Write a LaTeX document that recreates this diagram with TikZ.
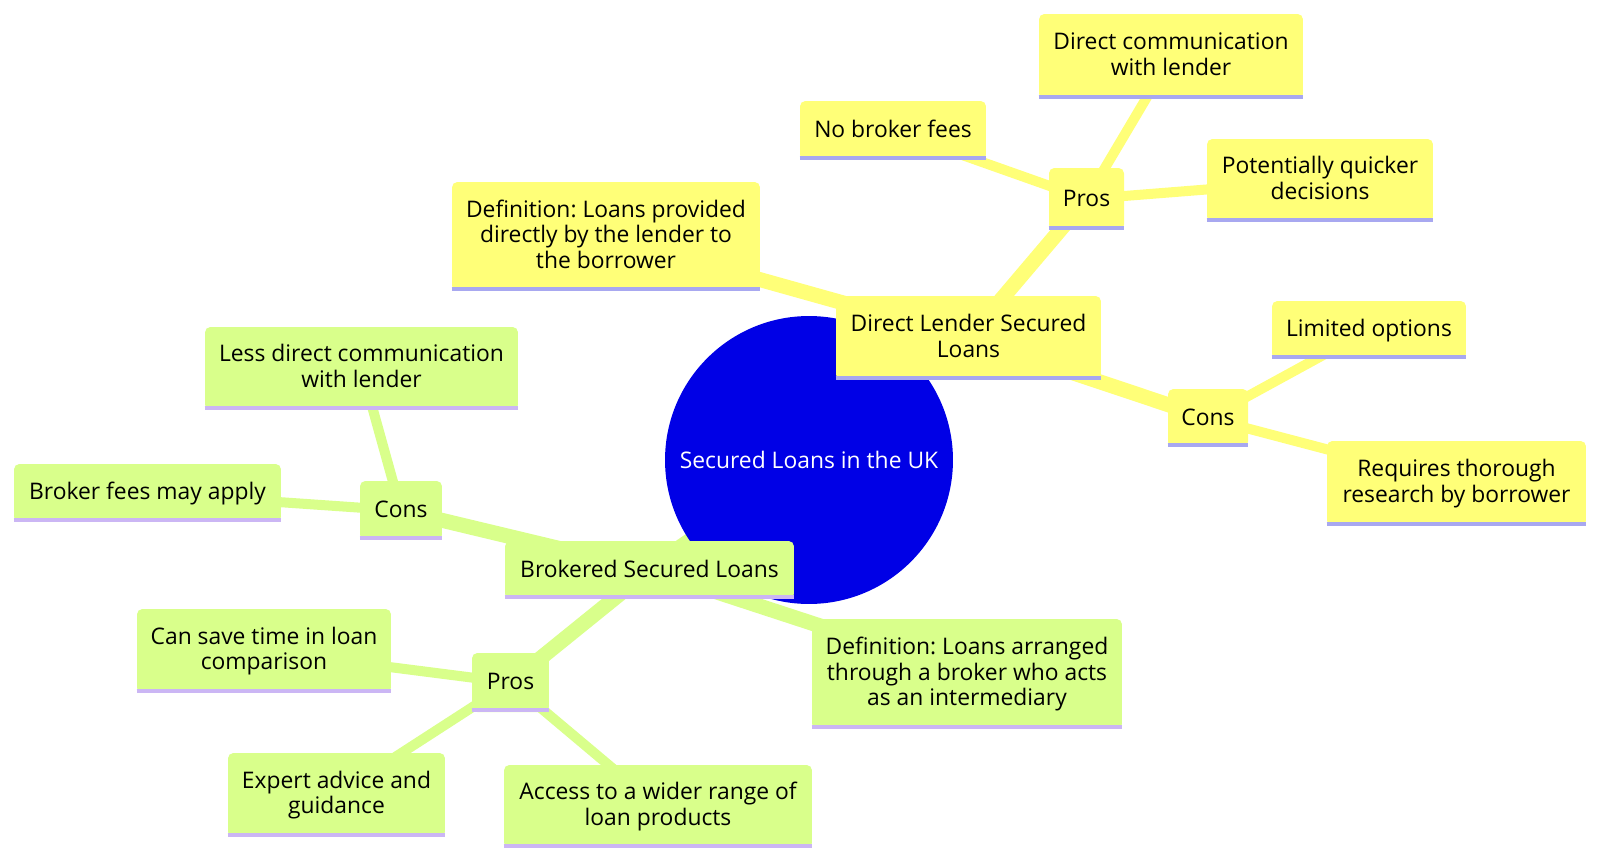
\documentclass[tikz,border=0pt]{standalone}
\usepackage{fontspec}
\setmainfont{Open Sans}
\frenchspacing
\usetikzlibrary{backgrounds}
\definecolor{secY}{HTML}{FFFF78}
\definecolor{secG}{HTML}{D9FF8B}
\definecolor{lineY}{HTML}{A8A8F0}
\definecolor{lineG}{HTML}{CBB6F4}
\definecolor{rootblue}{HTML}{0000E6}
\tikzset{
  box/.style={rectangle, rounded corners=3pt, inner sep=0pt, align=center,
    font=\fontsize{13}{14.7}\selectfont, text=black,
    execute at begin node={\rule{0pt}{11pt}},
    execute at end node={\rule[-2.6pt]{0pt}{0pt}}},
  ybox/.style={box, fill=secY},
  gbox/.style={box, fill=secG},
  ybar/.style={draw=lineY, line width=2.3pt},
  gbar/.style={draw=lineG, line width=2.3pt},
  yedge/.style={draw=secY},
  gedge/.style={draw=secG},
  d0/.style={line width=10.2pt},
  d1/.style={line width=8.5pt},
  d2/.style={line width=5.7pt},
  rootnode/.style={circle, fill=rootblue, text=white, inner sep=0pt,
    minimum size=5.76cm, font=\fontsize{13}{14.7}\selectfont}
}
\begin{document}
\begin{tikzpicture}[x=0.02cm, y=-0.02cm]
\useasboundingbox (0,0) rectangle (1600,862);
% root
\node[rootnode] (root) at (809,460) {Secured Loans in the UK};
% direct lender branch
\node[ybox, minimum width=5.30cm, minimum height=1.68cm] (dl) at (968.5,338) {Direct Lender Secured\\Loans};
\node[ybox, minimum width=6.16cm, minimum height=2.18cm] (dldef) at (606,236.5) {Definition: Loans provided\\directly by the lender to\\the borrower};
\node[ybox, minimum width=1.50cm, minimum height=1.24cm] (dlpros) at (1086.5,199) {Pros};
\node[ybox, minimum width=3.72cm, minimum height=1.18cm] (nbf) at (893,130.5) {No broker fees};
\node[ybox, minimum width=5.28cm, minimum height=1.70cm] (dcl) at (1171,56.5) {Direct communication\\with lender};
\node[ybox, minimum width=4.52cm, minimum height=1.66cm] (pqd) at (1320,180.5) {Potentially quicker\\decisions};
\node[ybox, minimum width=1.60cm, minimum height=1.16cm] (dlcons) at (1208,418) {Cons};
\node[ybox, minimum width=3.88cm, minimum height=1.16cm] (lo) at (1369,330) {Limited options};
\node[ybox, minimum width=5.18cm, minimum height=1.70cm] (rtr) at (1456.5,483.5) {Requires thorough\\research by borrower};
% brokered branch
\node[gbox, minimum width=5.78cm, minimum height=1.16cm] (bsl) at (649.5,570) {Brokered Secured Loans};
\node[gbox, minimum width=1.64cm, minimum height=1.18cm] (bcons) at (401,510.5) {Cons};
\node[gbox, minimum width=6.26cm, minimum height=1.66cm] (ldc) at (361.5,368.5) {Less direct communication\\with lender};
\node[gbox, minimum width=5.34cm, minimum height=1.16cm] (bfa) at (147.5,493) {Broker fees may apply};
\node[gbox, minimum width=1.54cm, minimum height=1.18cm] (bpros) at (510.5,682.5) {Pros};
\node[gbox, minimum width=5.08cm, minimum height=1.68cm] (cst) at (264,651) {Can save time in loan\\comparison};
\node[gbox, minimum width=4.34cm, minimum height=1.68cm] (ead) at (336.5,795) {Expert advice and\\guidance};
\node[gbox, minimum width=6.16cm, minimum height=1.66cm] (acc) at (658,806.5) {Access to a wider range of\\loan products};
\node[gbox, minimum width=6.20cm, minimum height=2.20cm] (bdef) at (967,674) {Definition: Loans arranged\\through a broker who acts\\as an intermediary};
% bottom bars
\foreach \n in {dl,dldef,dlpros,nbf,dcl,pqd,dlcons,lo,rtr}
  \draw[ybar] ([yshift=1.15pt]\n.south west) -- ([yshift=1.15pt]\n.south east);
\foreach \n in {bsl,bcons,ldc,bfa,bpros,cst,ead,acc,bdef}
  \draw[gbar] ([yshift=1.15pt]\n.south west) -- ([yshift=1.15pt]\n.south east);
% edges
\begin{pgfonlayer}{background}
\draw[yedge,d0] (root.center) -- (dl.center);
\draw[yedge,d1] (dl.center) -- (dldef.center);
\draw[yedge,d1] (dl.center) -- (dlpros.center);
\draw[yedge,d1] (dl.center) -- (dlcons.center);
\draw[yedge,d2] (dlpros.center) -- (nbf.center);
\draw[yedge,d2] (dlpros.center) -- (dcl.center);
\draw[yedge,d2] (dlpros.center) -- (pqd.center);
\draw[yedge,d2] (dlcons.center) -- (lo.center);
\draw[yedge,d2] (dlcons.center) -- (rtr.center);
\draw[gedge,d0] (root.center) -- (bsl.center);
\draw[gedge,d1] (bsl.center) -- (bcons.center);
\draw[gedge,d1] (bsl.center) -- (bpros.center);
\draw[gedge,d1] (bsl.center) -- (bdef.center);
\draw[gedge,d2] (bcons.center) -- (ldc.center);
\draw[gedge,d2] (bcons.center) -- (bfa.center);
\draw[gedge,d2] (bpros.center) -- (cst.center);
\draw[gedge,d2] (bpros.center) -- (ead.center);
\draw[gedge,d2] (bpros.center) -- (acc.center);
\end{pgfonlayer}
\end{tikzpicture}
\end{document}
